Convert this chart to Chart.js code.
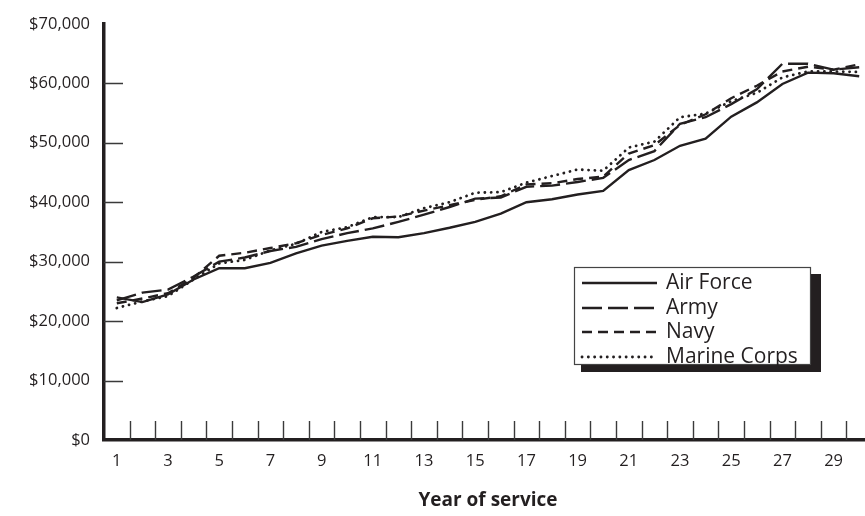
<!DOCTYPE html>
<html>
<head>
<meta charset="utf-8">
<script src="https://cdn.jsdelivr.net/npm/chart.js@4.4.1/dist/chart.umd.min.js"></script>
<style>
  html, body { margin: 0; padding: 0; background: #ffffff; overflow: hidden; }
  #wrap { width: 865px; height: 516px; overflow: hidden; position: relative; }
  canvas { display: block; }
</style>
</head>
<body>
<div id="wrap"><canvas id="c" width="880" height="516"></canvas></div>
<script>
// ---- data ----
const years = [1,2,3,4,5,6,7,8,9,10,11,12,13,14,15,16,17,18,19,20,21,22,23,24,25,26,27,28,29,30];
const airForce = [24000,23200,24500,27000,28900,28900,29800,31400,32700,33500,34200,34100,34800,35700,36700,38100,40000,40500,41300,41900,45400,47100,49500,50700,54400,56800,59900,61800,61700,61200];
const army     = [23500,24800,25300,27500,30000,30700,31800,32500,33800,34800,35600,36700,37900,39200,40600,40800,42600,42800,43400,44100,47100,48600,53200,54300,56500,59000,63300,63300,62300,62700];
const navy     = [23000,23800,24700,27300,31000,31500,32300,33100,34500,35600,37300,37600,38600,39500,40400,41000,43000,43200,43900,44300,48200,49600,53000,54800,57500,59600,62000,62800,62300,63200];
const marines  = [22200,23300,24200,27000,29700,30300,31900,33000,35000,35800,37500,37500,39000,40000,41600,41700,43300,44400,45500,45300,49200,50200,54300,54900,57000,58400,61000,62000,62000,61900];
const seriesNames = ['Air Force', 'Army', 'Navy', 'Marine Corps'];
const yTickValues = [0,10000,20000,30000,40000,50000,60000,70000];

const INK = '#231f20';
const AXIS_FONT = '"Open Sans", sans-serif';

const insideTicks = {
  id: 'insideTicks',
  beforeDatasetsDraw(chart) {
    const { ctx, chartArea, scales } = chart;
    const x = scales.x, y = scales.y;
    ctx.save();
    ctx.strokeStyle = '#3a3a3a';
    ctx.lineWidth = 1.4;
    ctx.beginPath();
    for (let i = 1; i < years.length; i++) {
      const px = Math.round((x.getPixelForValue(i - 1) + x.getPixelForValue(i)) / 2) + 0.5;
      ctx.moveTo(px, chartArea.bottom - 19);
      ctx.lineTo(px, chartArea.bottom);
    }
    y.ticks.forEach(t => {
      if (t.value === 0 || t.value === 70000) return;
      const py = Math.round(y.getPixelForValue(t.value)) + 0.5;
      ctx.moveTo(chartArea.left, py);
      ctx.lineTo(chartArea.left + 19, py);
    });
    ctx.stroke();
    ctx.restore();
  }
};

const boxedLegend = {
  id: 'boxedLegend',
  afterDraw(chart) {
    const { ctx } = chart;
    const bx = 574, by = 267, bw = 236, bh = 97;
    ctx.save();
    ctx.fillStyle = INK;
    ctx.fillRect(bx + 7, by + 7, bw + 4, bh + 1);
    ctx.fillStyle = '#ffffff';
    ctx.fillRect(bx, by, bw, bh);
    ctx.strokeStyle = '#444';
    ctx.lineWidth = 1.2;
    ctx.strokeRect(bx + 0.5, by + 0.5, bw, bh);
    const rows = [283, 308, 332, 357];
    chart.data.datasets.forEach((ds, i) => {
      const ry = rows[i];
      ctx.strokeStyle = ds.borderColor;
      ctx.lineWidth = ds.borderWidth;
      ctx.lineCap = ds.borderCapStyle || 'butt';
      ctx.setLineDash(ds.borderDash || []);
      ctx.beginPath();
      ctx.moveTo(582, ry);
      ctx.lineTo(657, ry);
      ctx.stroke();
      ctx.setLineDash([]);
      ctx.fillStyle = INK;
      ctx.font = '21px "Open Sans"';
      ctx.textBaseline = 'middle';
      ctx.textAlign = 'left';
      ctx.fillText(ds.label, 666, ry);
    });
    ctx.restore();
  }
};

const lineStyles = [
  { borderDash: [], borderCapStyle: 'butt' },
  { borderDash: [20, 6], borderCapStyle: 'butt' },
  { borderDash: [10, 6], borderCapStyle: 'butt' },
  { borderDash: [0.1, 6.2], borderCapStyle: 'round' }
];
const values = [airForce, army, navy, marines];

new Chart(document.getElementById('c'), {
  type: 'line',
  data: {
    labels: years,
    datasets: values.map((v, i) => ({
      label: seriesNames[i],
      data: v,
      borderColor: INK,
      borderWidth: i === 3 ? 2.8 : 2.4,
      borderDash: lineStyles[i].borderDash,
      borderCapStyle: lineStyles[i].borderCapStyle,
      pointRadius: 0,
      tension: 0,
      fill: false
    }))
  },
  options: {
    responsive: false,
    animation: false,
    devicePixelRatio: 1,
    layout: { padding: { top: 20, right: 8, left: 0, bottom: 0 } },
    plugins: { legend: { display: false }, tooltip: { enabled: false } },
    scales: {
      x: {
        type: 'category',
        offset: true,
        grid: { display: true, drawOnChartArea: false, drawTicks: false, offset: true, color: 'rgba(0,0,0,0)' },
        border: { display: true, color: INK, width: 3.5 },
        ticks: {
          autoSkip: false, maxRotation: 0, padding: 11,
          color: INK, font: { family: AXIS_FONT, size: 16.5 },
          callback: function (val, idx) { return years[idx] % 2 === 1 ? String(years[idx]) : ''; }
        },
        title: { display: true, text: 'Year of service', color: INK,
                 font: { family: AXIS_FONT, size: 19, weight: 'bold' }, padding: { top: 17, bottom: 4 } },
        afterFit(scale) { scale.height = 76; }
      },
      y: {
        min: 0, max: 70000,
        afterBuildTicks(scale) { scale.ticks = yTickValues.map(v => ({ value: v })); },
        grid: { display: true, drawOnChartArea: false, drawTicks: false, color: 'rgba(0,0,0,0)' },
        border: { display: true, color: INK, width: 3.5 },
        ticks: {
          padding: 14, color: INK, font: { family: AXIS_FONT, size: 16.5 },
          callback: v => '$' + v.toLocaleString('en-US')
        },
        afterFit(scale) { scale.width = 104; }
      }
    }
  },
  plugins: [insideTicks, boxedLegend]
});
</script>
</body>
</html>
